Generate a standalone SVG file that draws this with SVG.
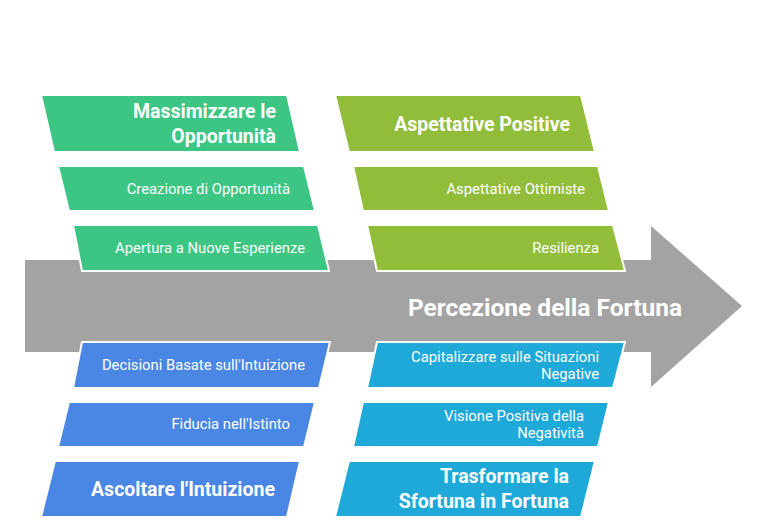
<svg xmlns="http://www.w3.org/2000/svg" width="768" height="532" viewBox="0 0 768 532">
<style>
.box{stroke:#ffffff;stroke-width:2;stroke-linejoin:miter}
.g{fill:#3cc583}.o{fill:#92bd3a}.b{fill:#4a86e4}.c{fill:#1ea9d9}
text{font-family:Roboto,"Liberation Sans",sans-serif;fill:#ffffff;text-anchor:end}
.s{font-size:14.8px}
.h{font-size:19.5px;font-weight:bold}
.t{font-size:24.5px;font-weight:bold}
</style>
<rect width="768" height="532" fill="#ffffff"/>
<g id="connectors">
<g id="arrow">
<path d="M25,260 H651 V226 L742,306 L651,387 V352 H25 Z" fill="#a3a3a3"/>
<text class="t" x="682" y="316">Percezione della Fortuna</text>
</g>
</g>
<g id="massimizzare">
<path class="box g" d="M41,95 H287 L300,152 H54 Z"/>
<text class="h" x="276" y="118">Massimizzare le</text>
<text class="h" x="276" y="143">Opportunità</text>
</g>
<g id="creazione">
<path class="box g" d="M58,166 H304 L315,211 H69 Z"/>
<text class="s" x="290" y="194">Creazione di Opportunità</text>
</g>
<g id="apertura">
<path class="box g" d="M73,225 H318 L329,271 H82 Z"/>
<text class="s" x="305" y="253">Apertura a Nuove Esperienze</text>
</g>
<g id="aspettative-positive">
<path class="box o" d="M335,95 H581 L595,152 H349 Z"/>
<text class="h" x="570" y="131">Aspettative Positive</text>
</g>
<g id="aspettative-ottimiste">
<path class="box o" d="M353,166 H598 L609,211 H363 Z"/>
<text class="s" x="585" y="194">Aspettative Ottimiste</text>
</g>
<g id="resilienza">
<path class="box o" d="M367,225 H613 L625,271 H377 Z"/>
<text class="s" x="599" y="253">Resilienza</text>
</g>
<g id="decisioni">
<path class="box b" d="M82,342 H330 L319,388 H73 Z"/>
<text class="s" x="305" y="370">Decisioni Basate sull'Intuizione</text>
</g>
<g id="fiducia">
<path class="box b" d="M69,402 H315 L304,447 H58 Z"/>
<text class="s" x="290" y="429">Fiducia nell'Istinto</text>
</g>
<g id="ascoltare">
<path class="box b" d="M55,461 H300 L287,517 H41 Z"/>
<text class="h" x="275" y="496">Ascoltare l'Intuizione</text>
</g>
<g id="capitalizzare">
<path class="box c" d="M377,342 H625 L613,388 H367 Z"/>
<text class="s" x="599" y="362">Capitalizzare sulle Situazioni</text>
<text class="s" x="599" y="379">Negative</text>
</g>
<g id="visione">
<path class="box c" d="M363,402 H609 L598,447 H353 Z"/>
<text class="s" x="584" y="421">Visione Positiva della</text>
<text class="s" x="584" y="438">Negatività</text>
</g>
<g id="trasformare">
<path class="box c" d="M349,461 H595 L581,517 H335 Z"/>
<text class="h" x="569" y="483">Trasformare la</text>
<text class="h" x="569" y="508">Sfortuna in Fortuna</text>
</g>
</svg>
